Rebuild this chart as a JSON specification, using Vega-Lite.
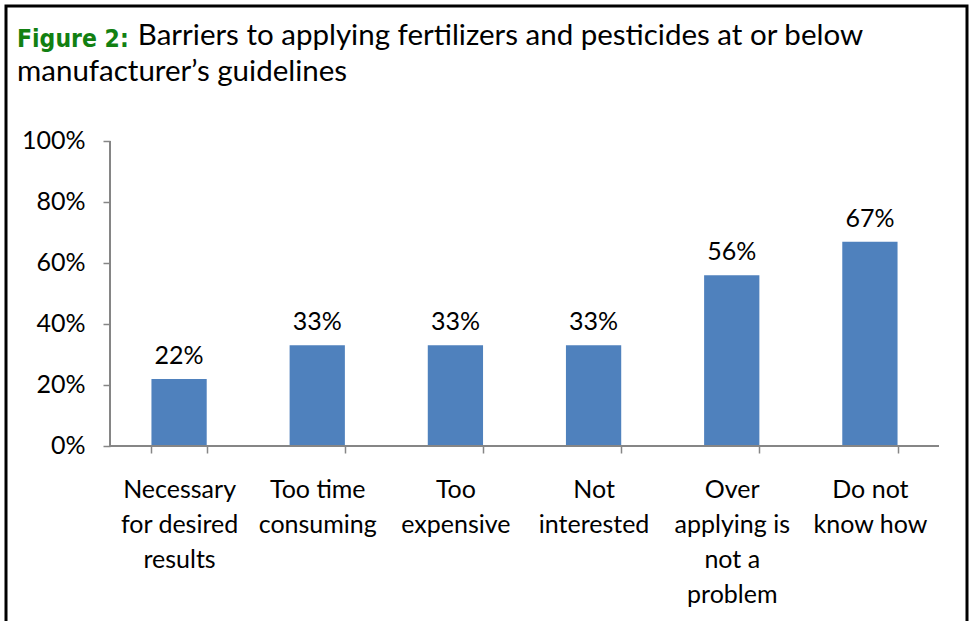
{
  "$schema": "https://vega.github.io/schema/vega-lite/v6.json",
  "width": 961,
  "height": 625,
  "autosize": "none",
  "padding": {"left": 6, "top": 6, "right": 3, "bottom": 0},
  "background": "white",
  "title": {
    "text": "Figure 2:",
    "subtitle": [
      "\u200b\u00a0\u00a0\u00a0\u00a0\u00a0\u00a0\u00a0\u00a0\u00a0\u00a0\u00a0\u00a0\u00a0\u00a0\u00a0\u00a0Barriers to applying fertilizers and pesticides at or below",
      "manufacturer’s guidelines"
    ],
    "anchor": "start",
    "frame": "group",
    "dx": 11,
    "offset": -87,
    "font": "DejaVu Sans Condensed, Roboto",
    "fontSize": 24.5,
    "fontWeight": "bold",
    "color": "#128012",
    "subtitleFont": "Lato",
    "subtitleFontSize": 29.5,
    "subtitleColor": "#000000",
    "subtitleLineHeight": 36,
    "subtitlePadding": -30
  },
  "data": {
    "values": [
      {"barrier": "Necessary for desired results", "share": 0.22},
      {"barrier": "Too time consuming", "share": 0.33},
      {"barrier": "Too expensive", "share": 0.33},
      {"barrier": "Not interested", "share": 0.33},
      {"barrier": "Over applying is not a problem", "share": 0.56},
      {"barrier": "Do not know how", "share": 0.67}
    ]
  },
  "encoding": {
    "x": {
      "field": "barrier",
      "type": "nominal",
      "sort": null,
      "scale": {"paddingInner": 0.6, "paddingOuter": 0.7777, "align": 0.6768},
      "axis": {
        "title": null,
        "offset": -185,
        "domain": false,
        "labelAngle": 0,
        "labelFont": "Lato",
        "labelFontSize": 25,
        "labelColor": "#000000",
        "labelLineHeight": 35,
        "labelPadding": 24,
        "labelLimit": 0,
        "tickBand": "extent",
        "tickSize": 7,
        "tickColor": "#868686",
        "tickWidth": 1.5,
        "labelExpr": "{'Necessary for desired results': ['Necessary', 'for desired', 'results'], 'Too time consuming': ['Too time', 'consuming'], 'Too expensive': ['Too', 'expensive'], 'Not interested': ['Not', 'interested'], 'Over applying is not a problem': ['Over', 'applying is', 'not a', 'problem'], 'Do not know how': ['Do not', 'know how']}[datum.value]"
      }
    },
    "y": {
      "field": "share",
      "type": "quantitative",
      "scale": {"domain": [-0.60656, 1.44262], "nice": false, "zero": false},
      "axis": {
        "title": null,
        "offset": -104,
        "domain": false,
        "values": [0, 0.2, 0.4, 0.6, 0.8, 1],
        "format": ".0%",
        "grid": false,
        "labelFont": "Lato",
        "labelFontSize": 25,
        "labelColor": "#000000",
        "labelPadding": 18,
        "tickSize": 7,
        "tickColor": "#868686",
        "tickWidth": 1.5
      }
    }
  },
  "layer": [
    {"mark": {"type": "bar", "color": "#4f81bd"}},
    {
      "mark": {"type": "text", "baseline": "alphabetic", "dy": -15, "font": "Lato", "fontSize": 25, "color": "#000000"},
      "encoding": {"text": {"field": "share", "type": "quantitative", "format": ".0%"}}
    },
    {
      "mark": {"type": "rule", "color": "#868686", "strokeWidth": 1.5},
      "encoding": {
        "x": {"datum": "Necessary for desired results", "bandPosition": -0.75},
        "y": {"datum": 0},
        "y2": {"datum": 1}
      }
    },
    {
      "mark": {"type": "rule", "color": "#868686", "strokeWidth": 1.5},
      "encoding": {
        "x": {"datum": "Necessary for desired results", "bandPosition": -0.75},
        "x2": {"datum": "Do not know how", "bandPosition": 1.75},
        "y": {"datum": 0}
      }
    }
  ],
  "config": {"view": {"stroke": "#000000", "strokeWidth": 3}}
}
